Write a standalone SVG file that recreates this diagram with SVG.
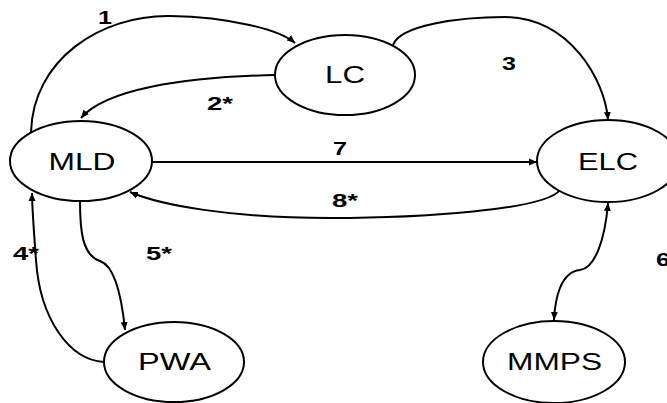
<svg xmlns="http://www.w3.org/2000/svg" width="667" height="403" viewBox="0 0 667 403">
<style>
.node ellipse{fill:#fff;stroke:#000;stroke-width:2}
.node text{font-family:"Liberation Sans",Arial,sans-serif;font-size:23px;text-anchor:middle;fill:#000}
.edge{fill:none;stroke:#000;stroke-width:2}
.lbl{font-family:"Liberation Sans",Arial,sans-serif;font-size:19px;font-weight:bold;text-anchor:middle;fill:#000}
</style>
<defs>
<marker id="ah" markerUnits="userSpaceOnUse" markerWidth="10" markerHeight="8" refX="8" refY="4" orient="auto-start-reverse">
<path d="M0,0.5 L8,4 L0,7.5 Z" fill="#000"/>
</marker>
</defs>
<g id="connectors">
<path class="edge" d="M31,132 C33,60 100,15 170,16 C230,17 280,30 295,43" marker-end="url(#ah)"/>
<path class="edge" d="M275,75 C180,77 105,90 81,118" marker-end="url(#ah)"/>
<path class="edge" d="M393,45 C400,25 460,17 505,17 C570,18 605,80 608,120" marker-end="url(#ah)"/>
<path class="edge" d="M152,162 L537,162" marker-end="url(#ah)"/>
<path class="edge" d="M560,190 C545,210 420,218 330,218 C230,218 160,205 130,192" marker-end="url(#ah)"/>
<path class="edge" d="M104,362 C70,360 40,320 36,260 C33,220 32,205 32,193" marker-end="url(#ah)"/>
<path class="edge" d="M80,201 C80,230 82,255 100,261 C115,266 122,300 125,330" marker-end="url(#ah)"/>
<path class="edge" d="M608,203 C605,240 595,268 580,270 C560,272 555,300 554,320" marker-start="url(#ah)" marker-end="url(#ah)"/>
<text class="lbl" x="105" y="24" textLength="14" lengthAdjust="spacingAndGlyphs">1</text>
<text class="lbl" x="220" y="110" textLength="26" lengthAdjust="spacingAndGlyphs">2*</text>
<text class="lbl" x="509" y="70" textLength="14" lengthAdjust="spacingAndGlyphs">3</text>
<text class="lbl" x="340" y="155" textLength="14" lengthAdjust="spacingAndGlyphs">7</text>
<text class="lbl" x="345" y="207" textLength="26" lengthAdjust="spacingAndGlyphs">8*</text>
<text class="lbl" x="26" y="260" textLength="26" lengthAdjust="spacingAndGlyphs">4*</text>
<text class="lbl" x="159" y="260" textLength="26" lengthAdjust="spacingAndGlyphs">5*</text>
<text class="lbl" x="663" y="266" textLength="14" lengthAdjust="spacingAndGlyphs">6</text>
</g>
<g id="LC" class="node"><ellipse cx="345" cy="75" rx="70" ry="40"/><text x="345" y="83" textLength="40" lengthAdjust="spacingAndGlyphs">LC</text></g>
<g id="MLD" class="node"><ellipse cx="81" cy="161" rx="71" ry="40"/><text x="82" y="170" textLength="67" lengthAdjust="spacingAndGlyphs">MLD</text></g>
<g id="ELC" class="node"><ellipse cx="608" cy="161" rx="71" ry="41"/><text x="608" y="170" textLength="60" lengthAdjust="spacingAndGlyphs">ELC</text></g>
<g id="PWA" class="node"><ellipse cx="174" cy="362" rx="70" ry="40"/><text x="174.5" y="370" textLength="73" lengthAdjust="spacingAndGlyphs">PWA</text></g>
<g id="MMPS" class="node"><ellipse cx="554" cy="362" rx="71" ry="41"/><text x="554.5" y="370" textLength="95" lengthAdjust="spacingAndGlyphs">MMPS</text></g>
</svg>
